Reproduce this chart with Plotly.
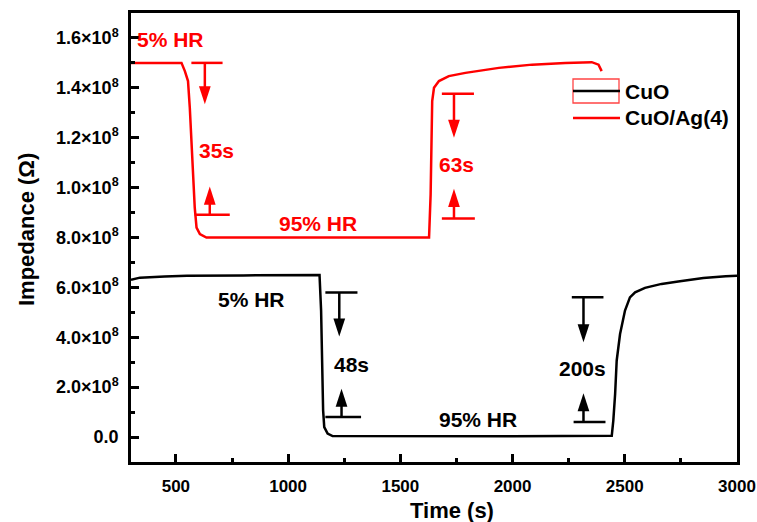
import plotly.graph_objects as go
import numpy as np

# ---------------- data (impedance in units of 1e8 Ohm) ----------------
time_cuo = [300, 340, 450, 549, 800, 1000, 1140, 1147, 1151, 1156, 1161, 1176, 1198, 1500,
            2000, 2442, 2449, 2457, 2464, 2479, 2501, 2523, 2546, 2590, 2664, 2738, 2850, 2950, 3000]
imp_cuo = [6.30, 6.39, 6.44, 6.47, 6.48, 6.49, 6.50, 5.07, 3.07, 1.07, 0.40, 0.14, 0.04, 0.03,
           0.03, 0.05, 0.67, 1.73, 3.07, 4.13, 5.07, 5.60, 5.80, 5.98, 6.14, 6.24, 6.38, 6.45, 6.47]

time_ag = [300, 525, 540, 554, 562, 569, 577, 584, 592, 607, 636, 1000, 1628, 1635, 1640, 1642,
           1650, 1672, 1716, 1790, 1939, 2087, 2235, 2353, 2383, 2397]
imp_ag = [15.0, 15.0, 14.67, 14.27, 13.2, 11.87, 10.27, 9.2, 8.4, 8.14, 8.0, 8.0, 8.0, 9.73, 11.73,
          13.47, 14.0, 14.27, 14.47, 14.6, 14.8, 14.93, 15.0, 15.03, 14.93, 14.67]

series_names = ["CuO", "CuO/Ag(4)"]
xtick_vals = [500, 1000, 1500, 2000, 2500, 3000]
ytick_vals = [0, 2e8, 4e8, 6e8, 8e8, 1.0e9, 1.2e9, 1.4e9, 1.6e9]
ytick_text = ["0.0", "2.0×10<sup>8</sup>", "4.0×10<sup>8</sup>", "6.0×10<sup>8</sup>",
              "8.0×10<sup>8</sup>", "1.0×10<sup>8</sup>", "1.2×10<sup>8</sup>",
              "1.4×10<sup>8</sup>", "1.6×10<sup>8</sup>"]

# response-time markers: (label, x_down, top_bar, down_tip, x_up, bottom_bar, up_tip,
#                         top_bar_x0, top_bar_x1, bot_bar_x0, bot_bar_x1, label_x, label_y, colour)
markers = [
    ("35s", 629, 15.0, 13.34, 651, 8.91, 10.04, 569, 708, 584, 740, 680, 11.47, "#FF0000"),
    ("63s", 1739, 13.76, 12.0, 1739, 8.76, 9.95, 1685, 1828, 1685, 1832, 1748, 10.91, "#FF0000"),
    ("48s", 1228, 5.8, 4.03, 1238, 0.8, 1.94, 1166, 1309, 1166, 1325, 1283, 2.91, "#000000"),
    ("200s", 2316, 5.6, 3.8, 2316, 0.6, 1.76, 2264, 2405, 2272, 2414, 2312, 2.74, "#000000"),
]
hr_labels = [("5% HR", 474, 15.94, "#FF0000"), ("95% HR", 1135, 8.56, "#FF0000"),
             ("5% HR", 835, 5.53, "#000000"), ("95% HR", 1845, 0.70, "#000000")]

S = 1e8
FONT = "Liberation Sans, Arial, sans-serif"
L, R, T, B = 131, 20, 13, 60
W, H = 757, 522

fig = go.Figure()
fig.add_trace(go.Scatter(x=time_cuo, y=np.array(imp_cuo) * S, mode="lines", name=series_names[0],
                         line=dict(color="#000000", width=2.5), showlegend=False))
fig.add_trace(go.Scatter(x=time_ag, y=np.array(imp_ag) * S, mode="lines", name=series_names[1],
                         line=dict(color="#FF0000", width=2.5), showlegend=False))

shapes = []
annotations = []
for (lab, xd, tb, dt, xu, bb, ut, tx0, tx1, bx0, bx1, lx, ly, col) in markers:
    # bars
    shapes.append(dict(type="line", xref="x", yref="y", x0=tx0, x1=tx1, y0=tb * S, y1=tb * S,
                       line=dict(color=col, width=2.5)))
    shapes.append(dict(type="line", xref="x", yref="y", x0=bx0, x1=bx1, y0=bb * S, y1=bb * S,
                       line=dict(color=col, width=2.5)))
    # stems
    shapes.append(dict(type="line", xref="x", yref="y", x0=xd, x1=xd, y0=tb * S, y1=(dt + 0.4) * S,
                       line=dict(color=col, width=2.5)))
    shapes.append(dict(type="line", xref="x", yref="y", x0=xu, x1=xu, y0=bb * S, y1=(ut - 0.4) * S,
                       line=dict(color=col, width=2.5)))
    # heads
    fig.add_trace(go.Scatter(x=[xd, xu], y=[dt * S, ut * S], mode="markers", showlegend=False,
                             hoverinfo="skip",
                             marker=dict(symbol="arrow", angle=[180, 0], size=19, color=col,
                                         line=dict(width=0))))
    annotations.append(dict(x=lx, y=ly * S, xref="x", yref="y", text=lab, showarrow=False,
                            font=dict(family=FONT, size=21, color=col, weight="bold")))
for (lab, lx, ly, col) in hr_labels:
    annotations.append(dict(x=lx, y=ly * S, xref="x", yref="y", text=lab, showarrow=False,
                            font=dict(family=FONT, size=21, color=col, weight="bold")))

# manual legend (paper coordinates)
def px(xpix):
    return (xpix - L) / float(W - L - R)

def py(ypix):
    return (H - B - ypix) / float(H - B - T)

shapes.append(dict(type="rect", xref="paper", yref="paper", x0=px(573), x1=px(619), y0=py(103), y1=py(79),
                   line=dict(color="#FF4444", width=1.3)))
shapes.append(dict(type="line", xref="paper", yref="paper", x0=px(573), x1=px(620), y0=py(91), y1=py(91),
                   line=dict(color="#000000", width=2.5)))
shapes.append(dict(type="line", xref="paper", yref="paper", x0=px(573), x1=px(620), y0=py(118), y1=py(118),
                   line=dict(color="#FF0000", width=2.5)))
annotations.append(dict(x=px(623), y=py(91), xref="paper", yref="paper", text=series_names[0],
                        xanchor="left", yanchor="middle", showarrow=False,
                        font=dict(family=FONT, size=21, color="#000000", weight="bold")))
annotations.append(dict(x=px(623), y=py(118), xref="paper", yref="paper", text=series_names[1],
                        xanchor="left", yanchor="middle", showarrow=False,
                        font=dict(family=FONT, size=21, color="#000000", weight="bold")))

# axis titles
annotations.append(dict(x=px(452), y=py(510), xref="paper", yref="paper", text="Time (s)",
                        showarrow=False, xanchor="center", yanchor="middle",
                        font=dict(family=FONT, size=22, color="#000000", weight="bold")))
annotations.append(dict(x=px(27), y=py(230), xref="paper", yref="paper", text="Impedance (Ω)",
                        showarrow=False, xanchor="center", yanchor="middle", textangle=-90,
                        font=dict(family=FONT, size=22, color="#000000", weight="bold")))

fig.update_layout(
    width=W, height=H,
    margin=dict(l=L, r=R, t=T, b=B, autoexpand=False),
    paper_bgcolor="white", plot_bgcolor="white",
    font=dict(family=FONT, size=18, color="#000000"),
    shapes=shapes, annotations=annotations,
    showlegend=False,
)
fig.update_xaxes(
    range=[300, 3000], tickvals=xtick_vals, ticks="inside", ticklen=8, tickwidth=2.5,
    tickcolor="#000000", showline=True, linecolor="#000000", linewidth=2.5, mirror=True,
    showgrid=False, zeroline=False, ticklabelstandoff=7, ticklabeloverflow="allow",
    automargin=False,
    tickfont=dict(family=FONT, size=17, weight="bold"),
    minor=dict(ticks="inside", ticklen=4, tickwidth=2.5, tickcolor="#000000",
               tickmode="linear", tick0=250, dtick=500, showgrid=False),
)
fig.update_yaxes(
    range=[-1.0e8, 1.70e9], tickmode="array", tickvals=ytick_vals, ticktext=ytick_text,
    ticks="inside", ticklen=8, tickwidth=2.5, tickcolor="#000000",
    showline=True, linecolor="#000000", linewidth=2.5, mirror=True,
    showgrid=False, zeroline=False, ticklabelstandoff=6, automargin=False,
    tickfont=dict(family=FONT, size=18, weight="bold"),
    minor=dict(ticks="inside", ticklen=4, tickwidth=2.5, tickcolor="#000000",
               tickmode="linear", tick0=1e8, dtick=2e8, showgrid=False),
)

fig.write_html("out.html")
